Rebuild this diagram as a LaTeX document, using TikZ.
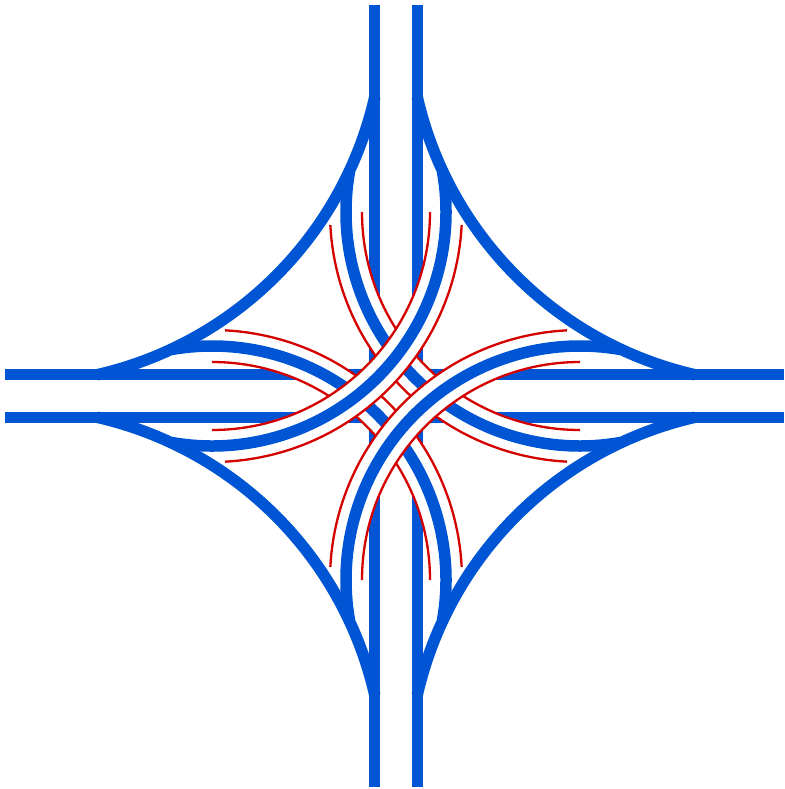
\documentclass[tikz,border=0pt]{standalone}
\definecolor{roadblue}{HTML}{0055D4}
\definecolor{casered}{HTML}{D40000}
\tikzset{
  road/.style={draw=roadblue,line width=11.5pt,line cap=butt},
  casing/.style={draw=casered,line width=2.3pt,line cap=butt},
  gap/.style={draw=white,line width=16.2pt,line cap=butt}
}
\newcommand{\rampat}[3]{%
  % #1,#2 circle centre, #3 rotation of angles
  \draw[gap] (#1,#2) ++({180+#3}:226) arc ({180+#3}:{90+#3}:226);
  \draw[gap] (#1,#2) ++({177+#3}:242) arc ({177+#3}:{93+#3}:242);
  \draw[road] (#1,#2) ++({190+#3}:234) arc ({190+#3}:{80+#3}:234);
  \draw[casing] (#1,#2) ++({180+#3}:218) arc ({180+#3}:{90+#3}:218);
  \draw[casing] (#1,#2) ++({177+#3}:250) arc ({177+#3}:{93+#3}:250);
}
\newcommand{\outerat}[3]{%
  \draw[road] (#1,#2) ++({#3+12.8}:369) arc ({#3+12.8}:{#3+77.2}:369);
}
\begin{document}
\begin{tikzpicture}[x=1pt,y=-1pt]
\useasboundingbox (0,0) rectangle (784,789);
\clip (0,0) rectangle (784,789);
% through carriageways
\draw[road] (374.5,5) -- (374.5,787);
\draw[road] (417.5,5) -- (417.5,787);
\draw[road] (5,374.5) -- (784,374.5);
\draw[road] (5,417.5) -- (784,417.5);
% outer slip curves
\outerat{15}{15}{0}
\outerat{777}{15}{90}
\outerat{777}{777}{180}
\outerat{15}{777}{270}
% lower ramps
\rampat{580}{212}{0}
\rampat{212}{580}{180}
% upper ramps
\rampat{580}{580}{90}
\rampat{212}{212}{270}
\end{tikzpicture}
\end{document}
